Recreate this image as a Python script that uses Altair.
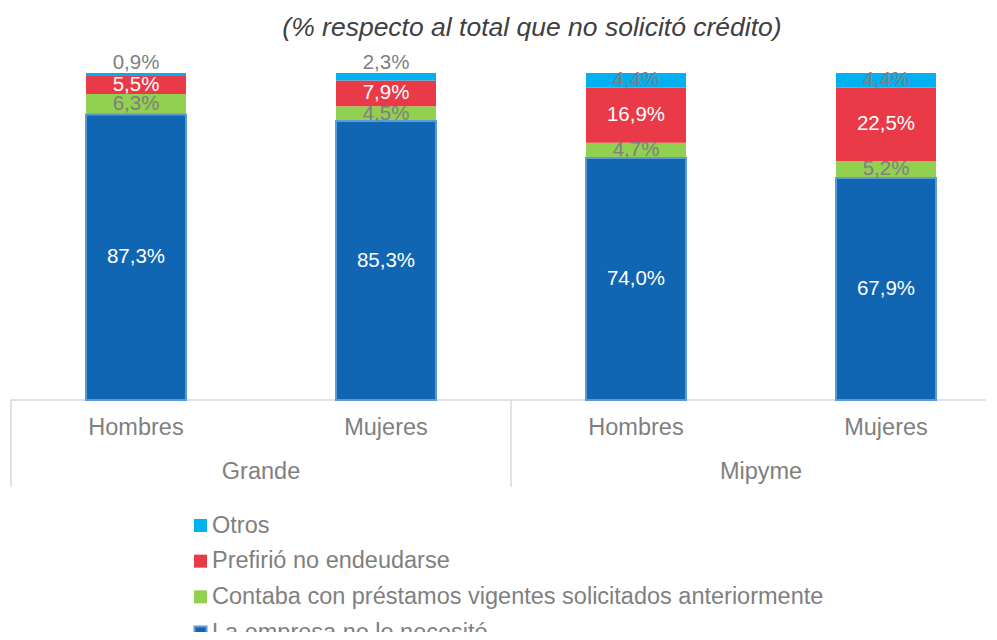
import altair as alt
import pandas as pd

TITLE = "(% respecto al total que no solicitó crédito)"
GRUPOS = ["Grande", "Mipyme"]
SEXOS = ["Hombres", "Mujeres"]
SERIES = [
    "La empresa no lo necesitó",
    "Contaba con préstamos vigentes solicitados anteriormente",
    "Prefirió no endeudarse",
    "Otros",
]
NO_NECESITO = [87.3, 85.3, 74.0, 67.9]
CONTABA = [6.3, 4.5, 4.7, 5.2]
PREFIRIO = [5.5, 7.9, 16.9, 22.5]
OTROS = [0.9, 2.3, 4.4, 4.4]
COLORS = ["#1066B2", "#92D050", "#EA3A47", "#00B0F0"]

VALUES = [NO_NECESITO, CONTABA, PREFIRIO, OTROS]
FONT = "Liberation Sans"

rows = []
bars_rows = []
for gi, g in enumerate(GRUPOS):
    for si, s in enumerate(SEXOS):
        b = gi * 2 + si
        bars_rows.append({"idx": b, "sexo": s})
        for k, serie in enumerate(SERIES):
            rows.append({"idx": b, "grupo": g, "sexo": s, "serie": serie,
                         "orden": k, "valor": VALUES[k][b]})
df = pd.DataFrame(rows)
df_bars = pd.DataFrame(bars_rows)
df_groups = pd.DataFrame({"gi": list(range(len(GRUPOS))), "grupo": GRUPOS})
df_title = pd.DataFrame({"t": [TITLE]})
LEG_ORDER = list(reversed(SERIES))
df_leg = pd.DataFrame({"serie": LEG_ORDER, "r": list(range(len(LEG_ORDER)))})

xscale = alt.Scale(domain=[0, 3.9], nice=False, zero=False)
yscale = alt.Scale(domain=[0, 100], nice=False, zero=True)
cscale = alt.Scale(domain=SERIES, range=COLORS)
lscale = alt.Scale(type="point", domain=list(range(len(LEG_ORDER))), range=[452.5, 559.5], padding=0)

base = alt.Chart(df).transform_window(
    y1="sum(valor)", groupby=["idx"], sort=[alt.SortField("orden", order="ascending")],
    frame=[None, 0],
).transform_calculate(
    y0="datum.y1 - datum.valor",
    xa="datum.idx + 0.3", xb="datum.idx + 0.7", xm="datum.idx + 0.5",
    ly="datum.valor < 3 ? datum.y1 + 3 : datum.y1 - datum.valor / 2",
    lab="replace(format(datum.valor, '.1f'), '.', ',') + '%'",
)

bars = base.mark_bar().encode(
    x=alt.X("xa:Q", scale=xscale, axis=None),
    x2="xb:Q",
    y=alt.Y("y0:Q", scale=yscale, axis=None),
    y2="y1:Q",
    color=alt.Color("serie:N", scale=cscale, legend=None),
)

outline = base.transform_filter("datum.orden == 0").mark_bar(
    filled=False, stroke="#5B9BD5", strokeWidth=2).encode(
    x=alt.X("xa:Q", scale=xscale, axis=None), x2="xb:Q",
    y=alt.Y("y0:Q", scale=yscale, axis=None), y2="y1:Q")

labels_w = base.transform_filter("datum.orden == 0 || datum.orden == 2").mark_text(
    font=FONT, fontSize=20.5, baseline="middle", align="center", color="#FFFFFF").encode(
    x=alt.X("xm:Q", scale=xscale, axis=None), y=alt.Y("ly:Q", scale=yscale, axis=None), text="lab:N")

labels_g = base.transform_filter("datum.orden == 1 || datum.orden == 3").mark_text(
    font=FONT, fontSize=20.5, baseline="middle", align="center", color="#7F7F7F").encode(
    x=alt.X("xm:Q", scale=xscale, axis=None), y=alt.Y("ly:Q", scale=yscale, axis=None), text="lab:N")

xlabels = alt.Chart(df_bars).transform_calculate(xm="datum.idx + 0.5").mark_text(
    font=FONT, fontSize=23.5, color="#7F7F7F", baseline="middle").encode(
    x=alt.X("xm:Q", scale=xscale, axis=None), y=alt.value(355), text="sexo:N")

glabels = alt.Chart(df_groups).transform_calculate(xm="datum.gi * 2 + 1").mark_text(
    font=FONT, fontSize=23.5, color="#7F7F7F", baseline="middle").encode(
    x=alt.X("xm:Q", scale=xscale, axis=None), y=alt.value(399), text="grupo:N")

seps = alt.Chart(df_groups).transform_calculate(xs="datum.gi * 2").mark_rule(
    color="#D9D9D9", strokeWidth=1.5).encode(
    x=alt.X("xs:Q", scale=xscale, axis=None), y=alt.value(327), y2=alt.value(414))

axisline = alt.Chart(df_groups).transform_calculate(
    xs="datum.gi * 2", xe="min(datum.gi * 2 + 2, 3.9)").mark_rule(
    color="#D9D9D9", strokeWidth=1.5).encode(
    x=alt.X("xs:Q", scale=xscale, axis=None), x2="xe:Q", y=alt.value(327))

leg_sq = alt.Chart(df_leg).mark_square(size=169, opacity=1).encode(
    x=alt.value(189.5),
    y=alt.Y("r:O", scale=lscale, axis=None),
    color=alt.Color("serie:N", scale=cscale, legend=None),
)

leg_outline = alt.Chart(df_leg).transform_filter(
    alt.datum.serie == SERIES[0]).mark_square(
    size=144, filled=False, stroke="#5B9BD5", strokeWidth=2, opacity=1).encode(
    x=alt.value(189.5),
    y=alt.Y("r:O", scale=lscale, axis=None),
)

leg_tx = alt.Chart(df_leg).mark_text(
    font=FONT, fontSize=23.5, color="#7F7F7F", baseline="middle", align="left").encode(
    x=alt.value(201),
    y=alt.Y("r:O", scale=lscale, axis=None),
    text="serie:N",
)

title = alt.Chart(df_title).mark_text(
    font=FONT, fontSize=26.5, fontStyle="italic", color="#404040", baseline="middle").encode(
    x=alt.value(521), y=alt.value(-45), text="t:N")

chart = alt.layer(
    axisline, seps, bars, outline, labels_w, labels_g, xlabels, glabels,
    leg_sq, leg_outline, leg_tx, title
).resolve_scale(y="independent").properties(
    width=975, height=327,
    autosize=alt.AutoSizeParams(type="none"),
    padding={"left": 3, "top": 65, "right": 3, "bottom": 232},
).configure_view(stroke=None)

chart.save("out.html", embed_options={"renderer": "svg", "actions": False})
